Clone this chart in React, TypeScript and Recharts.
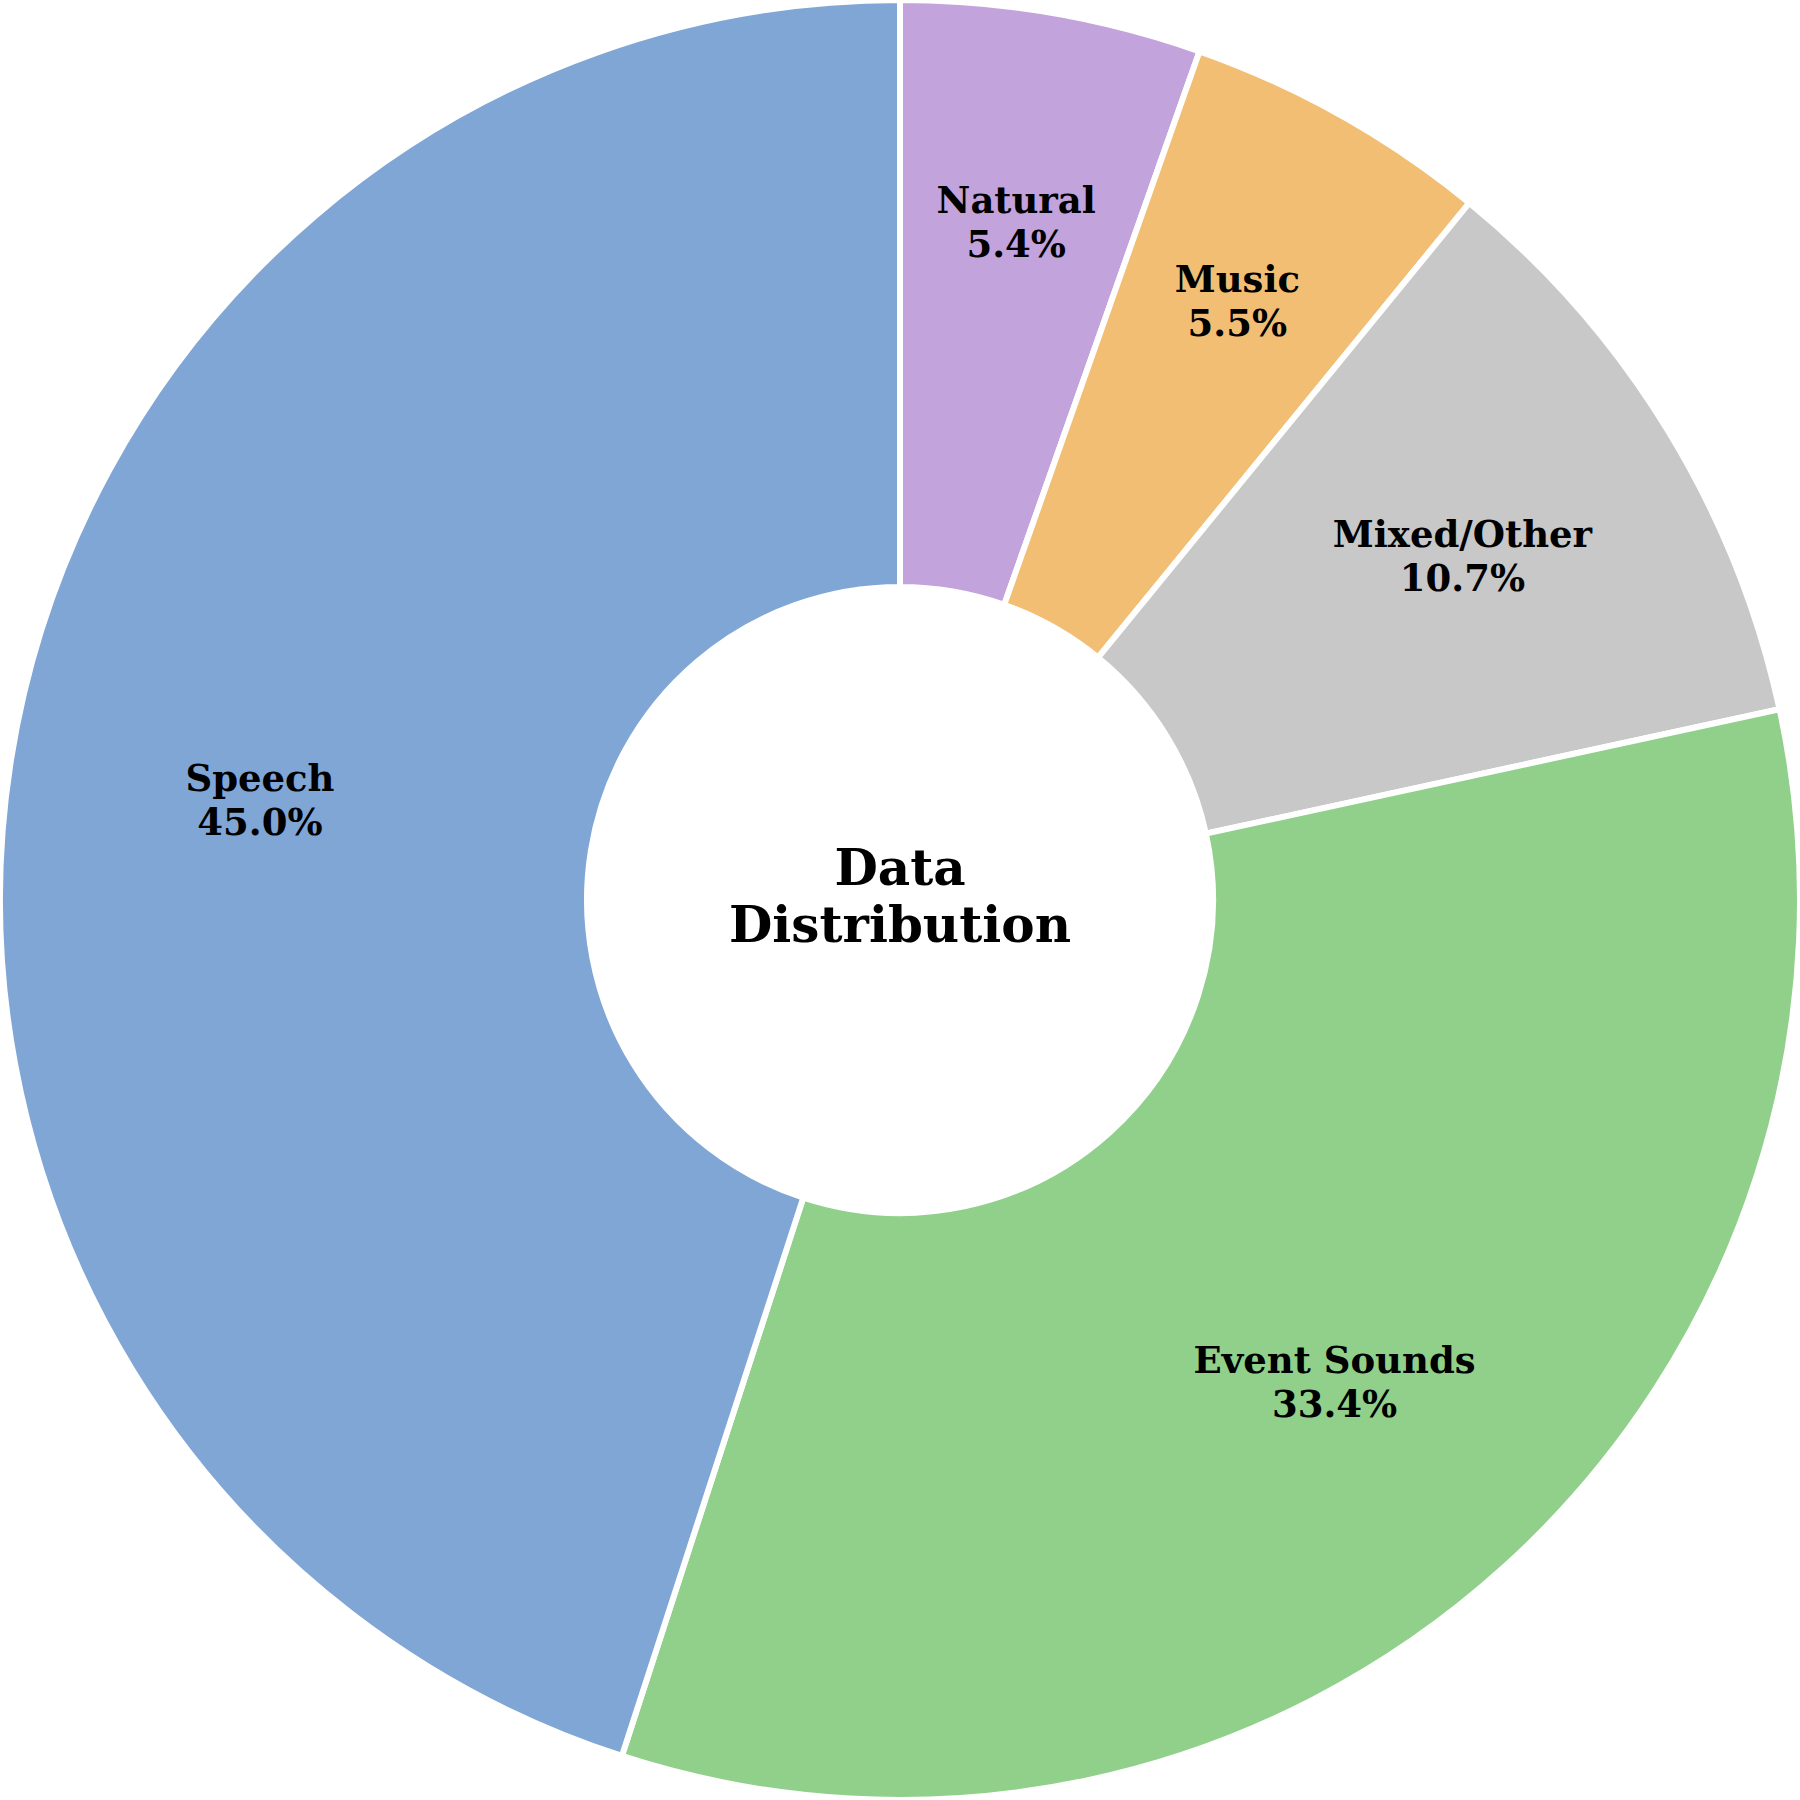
import React from "react"
import { PieChart, Pie, Cell } from "recharts"

const categories = ["Natural", "Music", "Mixed/Other", "Event Sounds", "Speech"]
const shares = [5.4, 5.5, 10.7, 33.4, 45.0]
const colors = ["#c3a3dc", "#f2be74", "#c8c8c8", "#90d08b", "#80a6d6"]
const centerTitle = ["Data", "Distribution"]

const data = categories.map((name, i) => ({ name, value: shares[i] }))

const FONT = "'DejaVu Serif', serif"
const RAD = Math.PI / 180

// labels on the small wedges sit a bit further out
function labelFactor(v: number) {
  if (v < 6) return 0.765
  if (v < 12) return 0.733
  return 0.72
}

function renderLabel(props: any) {
  const { cx, cy, midAngle, outerRadius, name, value } = props
  const r = outerRadius * labelFactor(value)
  const x = cx + r * Math.cos(-midAngle * RAD)
  const y = cy + r * Math.sin(-midAngle * RAD)
  return (
    <text
      x={x}
      y={y}
      textAnchor="middle"
      fontFamily={FONT}
      fontWeight="bold"
      fontSize={37}
      fill="#000"
    >
      <tspan x={x} y={y - 8}>{name}</tspan>
      <tspan x={x} y={y + 36}>{value.toFixed(1)}%</tspan>
    </text>
  )
}

export default function App() {
  return (
    <div style={{ position: "absolute", left: 0, top: 0, width: 1800, height: 1800, background: "#fff" }}>
      <PieChart width={1800} height={1800} margin={{ top: 0, right: 0, bottom: 0, left: 0 }}>
        <Pie
          data={data}
          dataKey="value"
          nameKey="name"
          cx={900}
          cy={900}
          outerRadius={900}
          innerRadius={313}
          startAngle={90}
          endAngle={-270}
          stroke="#fff"
          strokeWidth={6}
          label={renderLabel}
          labelLine={false}
          isAnimationActive={false}
        >
          {data.map((d, i) => (
            <Cell key={d.name} fill={colors[i]} />
          ))}
        </Pie>
        <text x={900} y={885} textAnchor="middle" fontFamily={FONT} fontWeight="bold" fontSize={50} fill="#000">
          {centerTitle[0]}
        </text>
        <text x={900} y={942} textAnchor="middle" fontFamily={FONT} fontWeight="bold" fontSize={50} fill="#000">
          {centerTitle[1]}
        </text>
      </PieChart>
    </div>
  )
}
